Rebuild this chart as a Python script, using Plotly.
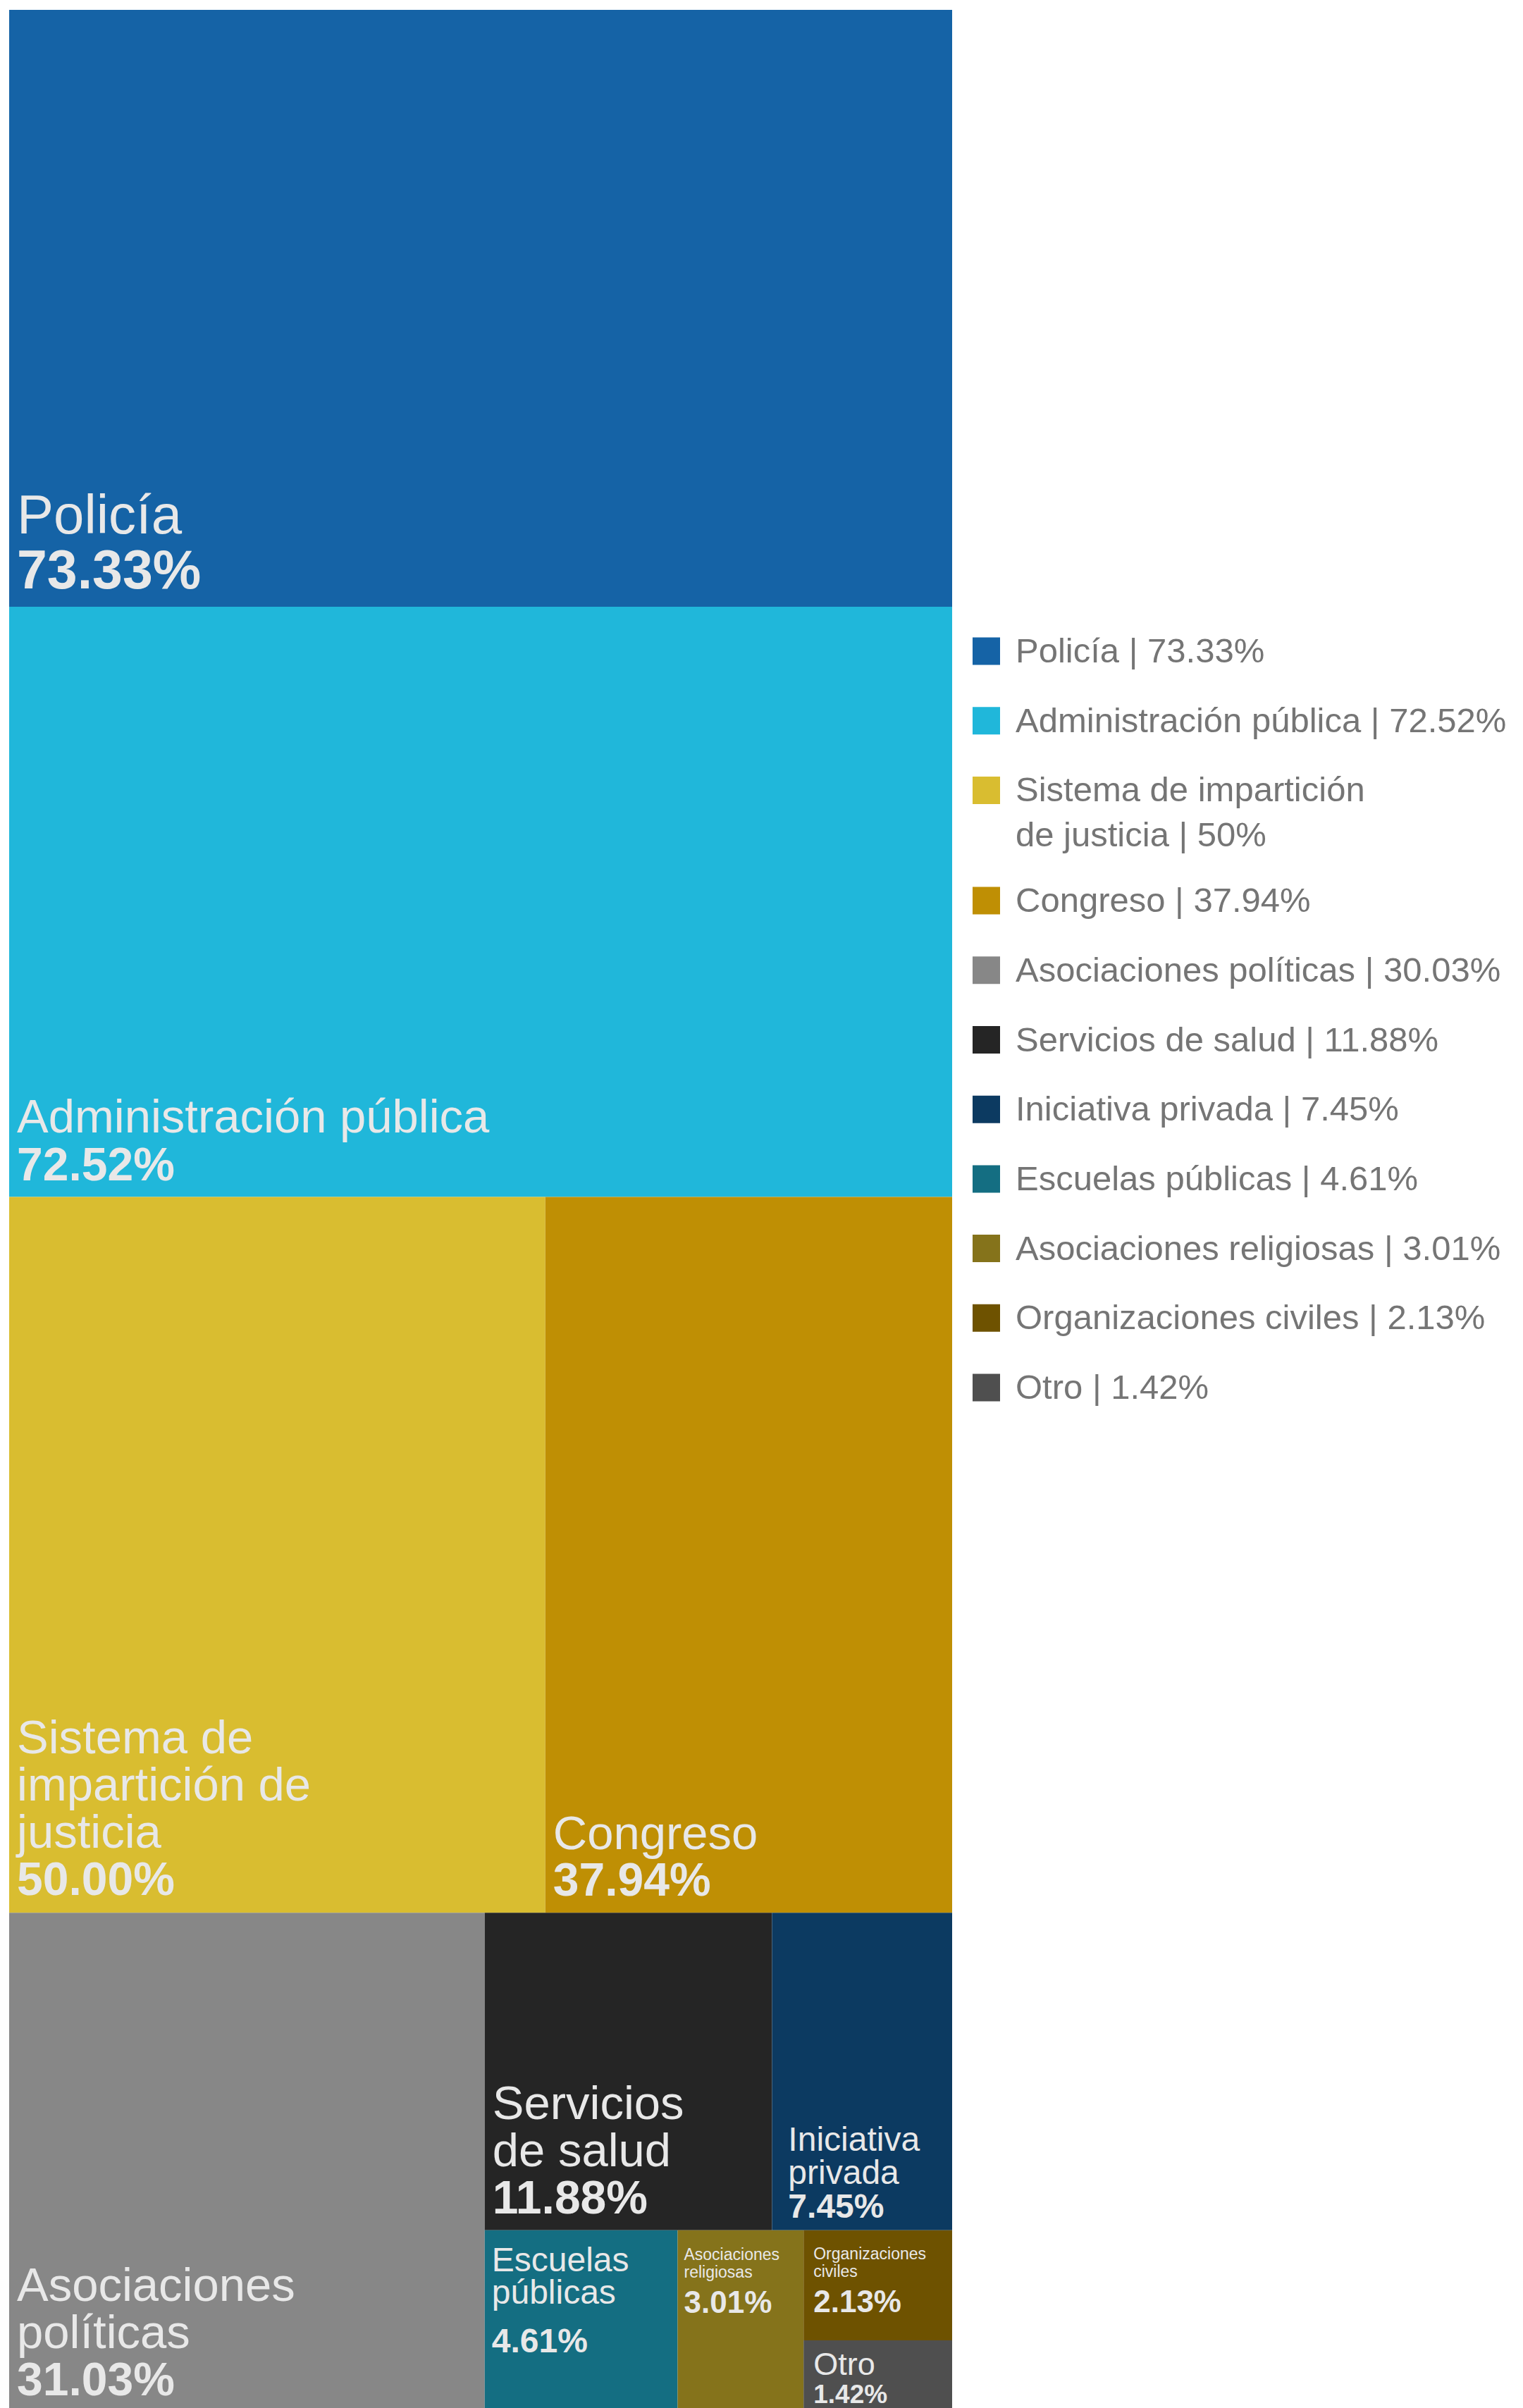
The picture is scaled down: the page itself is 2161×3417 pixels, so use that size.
import plotly.graph_objects as go

# ---------------- data ----------------
categories = ["Policía", "Administración pública", "Sistema de impartición de justicia",
              "Congreso", "Asociaciones políticas", "Servicios de salud", "Iniciativa privada",
              "Escuelas públicas", "Asociaciones religiosas", "Organizaciones civiles", "Otro"]
values = [73.33, 72.52, 50.00, 37.94, 31.03, 11.88, 7.45, 4.61, 3.01, 2.13, 1.42]
legend_values = ["73.33", "72.52", "50", "37.94", "30.03", "11.88", "7.45", "4.61", "3.01", "2.13", "1.42"]
tile_labels = ["Policía", "Administración pública", "Sistema de<br>impartición de<br>justicia",
               "Congreso", "Asociaciones<br>políticas", "Servicios<br>de salud", "Iniciativa<br>privada",
               "Escuelas<br>públicas", "Asociaciones<br>religiosas", "Organizaciones<br>civiles", "Otro"]
legend_names = ["Policía", "Administración pública", "Sistema de impartición<br>de justicia",
                "Congreso", "Asociaciones políticas", "Servicios de salud", "Iniciativa privada",
                "Escuelas públicas", "Asociaciones religiosas", "Organizaciones civiles", "Otro"]
colors = ["#1563a6", "#20b7da", "#d9bd30", "#bf8f04", "#878787", "#252525",
          "#0c3a61", "#146e82", "#85731b", "#6e5200", "#4f4f4f"]

# ---------------- styling ----------------
W, H = 2145, 3417
FONT = "Liberation Sans, Arial, Helvetica, sans-serif"
TEXT_COLOR = "#e8e8e8"
DESC = 0.212  # font descent ratio
# (label px, value px, line spacing px, label step, value step, trailing lines,
#  gap from last line baseline to tile bottom px, left pad px)
tile_styles = [
    (78, 77, 78, 1, 1, 0, 26, 8),
    (67, 66, 68, 1, 1, 0, 24, 8),
    (67, 66, 67, 1, 1, 0, 25, 8),
    (67, 66, 66, 1, 1, 0, 24, 8),
    (67, 66, 67, 1, 1, 0, 26, 8),
    (67, 66, 67, 1, 1, 0, 24, 8),
    (48, 48, 47.5, 1, 1, 0, 17, 20),
    (48, 48, 23, 2, 3, 3, 18, 7),
    (23, 44, 25, 1, 2, 5, 18, 6),
    (23, 44, 25, 1, 2, 1, 15, 11),
    (45, 37, 40, 1, 1, 0, 15, 11),
]

templates, base_sizes = [], []
for lab, (lp, vp, ls, lstep, vstep, trail, dlast, lpad) in zip(tile_labels, tile_styles):
    pad = f"<span style='font-size:{lpad / 0.278:.1f}px'>\u00a0</span>"
    lines = []
    for i, part in enumerate(lab.split("<br>")):
        if i > 0:
            lines += [""] * (lstep - 1)
        lines.append(pad + f"<span style='font-size:{lp}px'>{part}</span>")
    lines += [""] * (vstep - 1)
    lines.append(pad + f"<span style='font-size:{vp}px'><b>%{{value:.2f}}%</b></span>")
    lines += [""] * trail
    sink = f"<span style='font-size:{(dlast - 3) / DESC:.1f}px;color:rgba(0,0,0,0)'>.</span>"
    lines[-1] = lines[-1] + sink
    templates.append("<br>".join(lines))
    base_sizes.append(ls / 1.3)

fig = go.Figure()
fig.add_trace(go.Treemap(
    labels=categories,
    parents=[""] * len(categories),
    values=values,
    sort=True,
    marker=dict(colors=colors, line=dict(width=0), pad=dict(t=0, l=0, r=0, b=0)),
    tiling=dict(packing="squarify", squarifyratio=1, pad=0),
    pathbar=dict(visible=False),
    texttemplate=templates,
    textposition="bottom left",
    textfont=dict(family=FONT, color=TEXT_COLOR, size=base_sizes),
    hoverinfo="label+value",
    domain=dict(x=[5 / W, 1343 / W], y=[0, 1 - 6 / H]),
))

# ---------------- legend (drawn manually) ----------------
LEG_SQ_X0, LEG_SQ = 1372, 39
LEG_TXT_X = 1431
LEG_Y0, LEG_STEP, LEG_EXTRA = 916, 98.7, 58
shapes, annotations = [], []
yc = LEG_Y0
for name, val, col in zip(legend_names, legend_values, colors):
    shapes.append(dict(type="rect", xref="paper", yref="paper",
                       x0=LEG_SQ_X0 / W, x1=(LEG_SQ_X0 + LEG_SQ) / W,
                       y0=1 - (yc - LEG_SQ / 2) / H, y1=1 - (yc + LEG_SQ / 2) / H,
                       fillcolor=col, line=dict(width=0)))
    annotations.append(dict(xref="paper", yref="paper", x=LEG_TXT_X / W, y=1 - (yc - 30) / H,
                            xanchor="left", yanchor="top", align="left", showarrow=False,
                            text=f"{name} | {val}%",
                            font=dict(family=FONT, size=49, color="#757575")))
    yc += LEG_STEP + LEG_EXTRA * name.count("<br>")

fig.update_layout(
    width=W, height=H,
    margin=dict(l=0, r=0, t=0, b=0),
    paper_bgcolor="white",
    showlegend=False,
    shapes=shapes,
    annotations=annotations,
)

fig.write_html("out.html")
